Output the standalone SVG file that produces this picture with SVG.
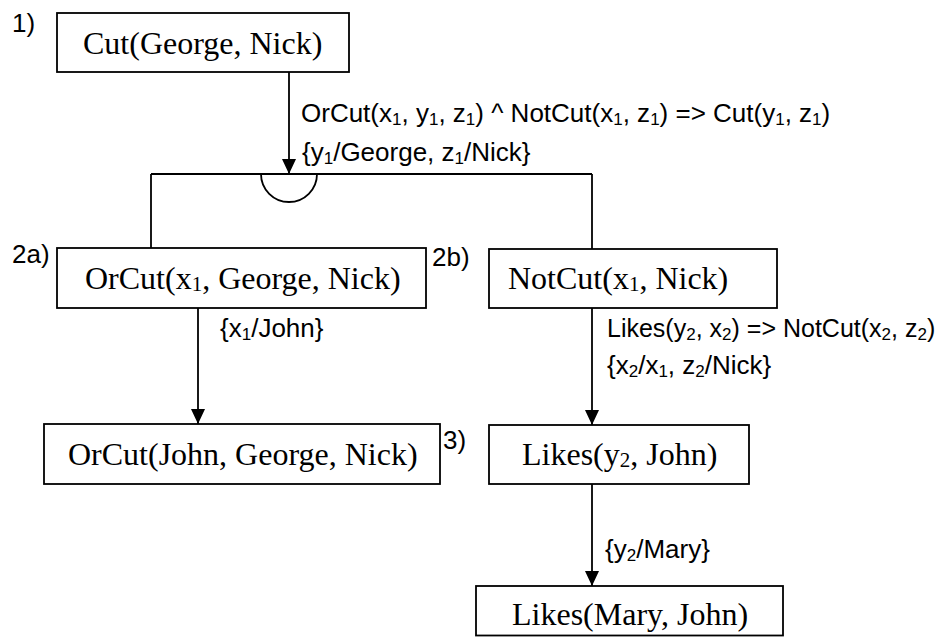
<svg xmlns="http://www.w3.org/2000/svg" width="945" height="637" viewBox="0 0 945 637">
<style>
.box{fill:#fff;stroke:#000;stroke-width:1.8}
.serif{font-family:"Liberation Serif","Times New Roman",serif;font-size:32px;fill:#000}
.sans{font-family:"Liberation Sans",Arial,sans-serif;font-size:25px;fill:#000}
.big{font-size:26px}
.con{fill:none;stroke:#000;stroke-width:1.8}
.ss{font-size:21px}
.sb{font-size:17px}
</style>
<defs>
<marker id="ah" markerUnits="userSpaceOnUse" markerWidth="16" markerHeight="15" refX="15" refY="7" orient="auto">
<path d="M0,0 L15,7 L0,14 z" fill="#000"/>
</marker>
</defs>
<rect width="945" height="637" fill="#fff"/>
<g id="connectors">
<line class="con" x1="289" y1="72" x2="289" y2="174" marker-end="url(#ah)"/>
<line class="con" x1="151" y1="174" x2="592" y2="174"/>
<path class="con" d="M261,174 A28,28 0 0 0 317,174"/>
<line class="con" x1="151" y1="174" x2="151" y2="248"/>
<line class="con" x1="592" y1="174" x2="592" y2="249"/>
<line class="con" x1="198" y1="308" x2="198" y2="424" marker-end="url(#ah)"/>
<line class="con" x1="592" y1="308" x2="592" y2="425" marker-end="url(#ah)"/>
<line class="con" x1="592" y1="484" x2="592" y2="586" marker-end="url(#ah)"/>
</g>
<g id="n1">
<rect class="box" x="57" y="13" width="292" height="59"/>
<text class="serif" x="83" y="54">Cut(George, Nick)</text>
</g>
<g id="n2a">
<rect class="box" x="57" y="248" width="369" height="60"/>
<text class="serif" x="85" y="289">OrCut(x<tspan class="ss" dy="2">1</tspan><tspan dy="-2">, George, Nick)</tspan></text>
</g>
<g id="n2b">
<rect class="box" x="489" y="249" width="288" height="59"/>
<text class="serif" x="508" y="289">NotCut(x<tspan class="ss" dy="2">1</tspan><tspan dy="-2">, Nick)</tspan></text>
</g>
<g id="n3a">
<rect class="box" x="44" y="424" width="396" height="60"/>
<text class="serif" x="68" y="465">OrCut(John, George, Nick)</text>
</g>
<g id="n3b">
<rect class="box" x="489" y="425" width="260" height="59"/>
<text class="serif" x="522" y="465">Likes(y<tspan class="ss" dy="2">2</tspan><tspan dy="-2">, John)</tspan></text>
</g>
<g id="n4">
<rect class="box" x="476" y="586" width="307" height="49.5"/>
<text class="serif" x="512" y="625">Likes(Mary, John)</text>
</g>
<g id="labels">
<text class="sans big" x="12" y="32">1)</text>
<text class="sans big" x="12" y="263">2a)</text>
<text class="sans big" x="432" y="266">2b)</text>
<text class="sans big" x="443" y="449">3)</text>
<text class="sans big" x="301" y="122">OrCut(x<tspan class="sb" dy="3">1</tspan><tspan dy="-3">, y</tspan><tspan class="sb" dy="3">1</tspan><tspan dy="-3">, z</tspan><tspan class="sb" dy="3">1</tspan><tspan dy="-3">) ^ NotCut(x</tspan><tspan class="sb" dy="3">1</tspan><tspan dy="-3">, z</tspan><tspan class="sb" dy="3">1</tspan><tspan dy="-3">) =&gt; Cut(y</tspan><tspan class="sb" dy="3">1</tspan><tspan dy="-3">, z</tspan><tspan class="sb" dy="3">1</tspan><tspan dy="-3">)</tspan></text>
<text class="sans big" x="302" y="161">{y<tspan class="sb" dy="3">1</tspan><tspan dy="-3">/George, z</tspan><tspan class="sb" dy="3">1</tspan><tspan dy="-3">/Nick}</tspan></text>
<text class="sans big" x="220" y="337">{x<tspan class="sb" dy="3">1</tspan><tspan dy="-3">/John}</tspan></text>
<text class="sans" x="607" y="337">Likes(y<tspan class="sb" dy="3">2</tspan><tspan dy="-3">, x</tspan><tspan class="sb" dy="3">2</tspan><tspan dy="-3">) =&gt; NotCut(x</tspan><tspan class="sb" dy="3">2</tspan><tspan dy="-3">, z</tspan><tspan class="sb" dy="3">2</tspan><tspan dy="-3">)</tspan></text>
<text class="sans big" x="607" y="374">{x<tspan class="sb" dy="3">2</tspan><tspan dy="-3">/x</tspan><tspan class="sb" dy="3">1</tspan><tspan dy="-3">, z</tspan><tspan class="sb" dy="3">2</tspan><tspan dy="-3">/Nick}</tspan></text>
<text class="sans big" x="605" y="558">{y<tspan class="sb" dy="3">2</tspan><tspan dy="-3">/Mary}</tspan></text>
</g>
</svg>
